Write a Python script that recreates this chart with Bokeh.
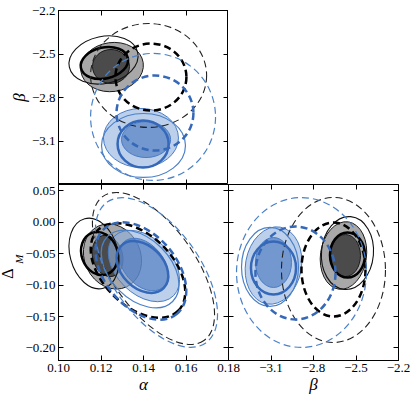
from bokeh.plotting import figure
from bokeh.models import FixedTicker, LinearAxis, Range1d, Title
from bokeh.layouts import column, row
from bokeh.embed import file_html
from bokeh.resources import INLINE

# ---------------- axes ----------------
alpha_range = (0.10, 0.18)
beta_range = (-3.4, -2.2)
dm_range = (-0.22, 0.06)

alpha_ticks = [0.10, 0.12, 0.14, 0.16, 0.18]
alpha_labels = ["0.10", "0.12", "0.14", "0.16", "0.18"]
beta_ticks = [-3.1, -2.8, -2.5, -2.2]
beta_labels = ["\u22123.1", "\u22122.8", "\u22122.5", "\u22122.2"]
dm_ticks = [0.05, 0.00, -0.05, -0.10, -0.15, -0.20]
dm_labels = ["0.05", "0.00", "\u22120.05", "\u22120.10", "\u22120.15", "\u22120.20"]

# ---------------- contours (same order in every panel) ----------------
contour_names = ["black fill outer", "black fill inner", "blue fill outer", "blue fill inner",
                 "black thick solid", "black thin solid", "black thick dashed", "black thin dashed",
                 "blue thick solid", "blue thin solid", "blue thick dashed", "blue thin dashed"]

# panel alpha-beta
ab_x = [0.1252, 0.1247, 0.1388, 0.1412, 0.1216, 0.1212, 0.1435, 0.1424, 0.1398, 0.1400, 0.1454, 0.1445]
ab_y = [-2.590, -2.586, -3.079, -3.090, -2.562, -2.541, -2.659, -2.648, -3.121, -3.131, -2.907, -2.934]
ab_w = [0.0296, 0.0174, 0.0353, 0.0231, 0.0226, 0.0329, 0.0334, 0.0546, 0.0240, 0.0395, 0.0362, 0.0588]
ab_h = [0.338, 0.234, 0.407, 0.248, 0.214, 0.324, 0.462, 0.717, 0.324, 0.441, 0.517, 0.876]
ab_ang = [8, 0, 0, 0, 12, 12, 0, 0, 0, 0, 0, 0]

# panel alpha-DeltaM
ad_x = [0.1254, 0.1231, 0.1402, 0.1400, 0.1193, 0.1167, 0.1374, 0.1447, 0.1395, 0.1384, 0.1388, 0.1461]
ad_y = [-0.0545, -0.0537, -0.0697, -0.0673, -0.0498, -0.0498, -0.0768, -0.0736, -0.0712, -0.0744, -0.0776, -0.0800]
ad_w = [0.0264, 0.0141, 0.0395, 0.0282, 0.0169, 0.0226, 0.0536, 0.0828, 0.0282, 0.0433, 0.0527, 0.0809]
ad_h = [0.1066, 0.0668, 0.0891, 0.0636, 0.0700, 0.1145, 0.1114, 0.1336, 0.0668, 0.0954, 0.1145, 0.1400]
ad_ang = [25, 15, -45, -50, 20, 15, -45, -55, -45, -45, -50, -55]

# panel beta-DeltaM
bd_x = [-2.5884, -2.5743, -3.0824, -3.0824, -2.5602, -2.5602, -2.659, -2.659, -3.0824, -3.1071, -2.9272, -2.8848]
bd_y = [-0.0530, -0.0530, -0.0689, -0.0641, -0.0522, -0.0490, -0.0752, -0.0760, -0.0728, -0.0712, -0.0808, -0.0800]
bd_w = [0.325, 0.212, 0.395, 0.254, 0.247, 0.367, 0.452, 0.734, 0.318, 0.402, 0.565, 0.917]
bd_h = [0.1082, 0.0668, 0.1241, 0.0795, 0.0716, 0.1161, 0.1495, 0.2307, 0.0843, 0.1257, 0.1480, 0.2386]
bd_ang = [-8, 0, -10, 0, 0, -5, 0, 0, 0, 0, 0, 0]

# ---------------- styles ----------------
DASH = "7 4"
STYLES = [
    dict(fill_color="#7a7a7a", fill_alpha=0.65, line_color="#1a1a1a", line_width=1.0),
    dict(fill_color="#333333", fill_alpha=0.8, line_color="#1a1a1a", line_width=1.0),
    dict(fill_color="#8fb0df", fill_alpha=0.6, line_color="#4a7cc4", line_width=1.0),
    dict(fill_color="#4b78c0", fill_alpha=0.65, line_color="#4a7cc4", line_width=1.0),
    dict(fill_color=None, line_color="#000000", line_width=2.5),
    dict(fill_color=None, line_color="#111111", line_width=1.1),
    dict(fill_color=None, line_color="#000000", line_width=2.5, line_dash=DASH),
    dict(fill_color=None, line_color="#222222", line_width=1.1, line_dash=DASH),
    dict(fill_color=None, line_color="#3568b8", line_width=2.5),
    dict(fill_color=None, line_color="#4a80c8", line_width=1.2),
    dict(fill_color=None, line_color="#3568b8", line_width=2.5, line_dash=DASH),
    dict(fill_color=None, line_color="#4a80c8", line_width=1.2, line_dash=DASH),
]

SERIF = "Liberation Serif"
BL, BR, BT, BB, FW, FH1, FH2, OV = 58, 13, 10, 36, 170, 174, 176, 14


def make_fig(xr, yr, fh, bl, br, bt, bb):
    p = figure(frame_width=FW, frame_height=fh, x_range=Range1d(*xr), y_range=Range1d(*yr),
               output_backend="svg", toolbar_location=None,
               min_border_left=bl, min_border_right=br, min_border_top=bt, min_border_bottom=bb)
    p.grid.visible = False
    p.outline_line_color = "black"
    p.outline_line_width = 1
    p.background_fill_color = "white"
    p.add_layout(LinearAxis(), "above")
    p.add_layout(LinearAxis(), "right")
    return p


def set_axis(ax, ticks, labels, show, axis_label=None):
    ax.ticker = FixedTicker(ticks=ticks, minor_ticks=[])
    ax.major_tick_in = 5
    ax.major_tick_out = 0
    ax.minor_tick_in = 0
    ax.minor_tick_out = 0
    ax.axis_line_color = "black"
    ax.major_tick_line_color = "black"
    if show:
        ax.major_label_overrides = {t: l for t, l in zip(ticks, labels)}
        ax.major_label_text_font = SERIF
        ax.major_label_text_font_size = "13px"
        ax.major_label_text_color = "black"
        ax.major_label_standoff = 3
    else:
        ax.major_label_text_color = None
        ax.major_label_standoff = 0
    if axis_label:
        ax.axis_label = axis_label
        ax.axis_label_text_font = SERIF
        ax.axis_label_text_font_style = "italic"
        ax.axis_label_text_font_size = "17px"
        ax.axis_label_text_color = "black"
        ax.axis_label_standoff = 0


def draw(p, xs, ys, ws, hs, angs):
    for i in range(len(xs)):
        p.ellipse(x=[xs[i]], y=[ys[i]], width=[ws[i]], height=[hs[i]], angle=[angs[i]],
                  angle_units="deg", **STYLES[i])


# top-left: alpha vs beta
p1 = make_fig(alpha_range, beta_range, FH1, BL, 0, BT, 0)
set_axis(p1.below[0], alpha_ticks, alpha_labels, False)
set_axis(p1.above[0], alpha_ticks, alpha_labels, False)
set_axis(p1.left[0], beta_ticks, beta_labels, True, "\u03b2")
set_axis(p1.right[0], beta_ticks, beta_labels, False)
draw(p1, ab_x, ab_y, ab_w, ab_h, ab_ang)

# bottom-left: alpha vs DeltaM
p2 = make_fig(alpha_range, dm_range, FH2, BL, OV, 0, BB)
set_axis(p2.below[0], alpha_ticks, alpha_labels, True, "\u03b1")
set_axis(p2.above[0], alpha_ticks, alpha_labels, False)
set_axis(p2.left[0], dm_ticks, dm_labels, True)
set_axis(p2.right[0], dm_ticks, dm_labels, False)
draw(p2, ad_x, ad_y, ad_w, ad_h, ad_ang)
# y label "Delta_M": subscript M next to the tick labels (higher), Delta outside it (lower)
p2.add_layout(Title(text="M", align="right", offset=70, standoff=-4, text_font=SERIF,
                    text_font_style="italic", text_font_size="11px", text_color="black"), "left")
p2.add_layout(Title(text="\u0394", align="right", offset=84, standoff=-7, text_font=SERIF,
                    text_font_style="normal", text_font_size="16px", text_color="black"), "left")

# bottom-right: beta vs DeltaM
p3 = make_fig(beta_range, dm_range, FH2, 0, BR, 0, BB)
p3.border_fill_alpha = 0
set_axis(p3.below[0], beta_ticks, beta_labels, True, "\u03b2")
set_axis(p3.above[0], beta_ticks, beta_labels, False)
set_axis(p3.left[0], dm_ticks, dm_labels, False)
set_axis(p3.right[0], dm_ticks, dm_labels, False)
draw(p3, bd_x, bd_y, bd_w, bd_h, bd_ang)
p3.margin = (0, 0, 0, -OV)

layout = column(p1, row(p2, p3))
open("out.html", "w").write(file_html(layout, INLINE))
